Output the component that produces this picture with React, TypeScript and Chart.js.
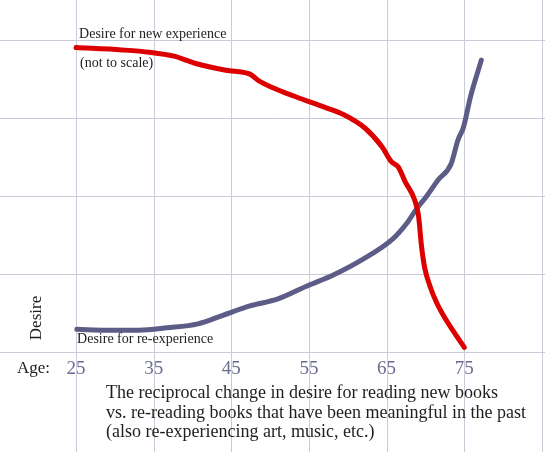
import { useEffect, useRef } from 'react';
import { Chart, registerables } from 'chart.js';

Chart.register(...registerables);

// ages (x) and desire (y)
const newAges = [25, 30.9, 34.5, 37.6, 40.3, 44.3, 47.4, 48.6, 53.3, 56.9, 59.5, 62.2, 64.4, 65.6, 66.5, 67.4, 68.6, 69.1, 69.5, 69.9, 70.6, 71.4, 72.3, 73.7, 75.0];
const newDesire = [3.9, 3.87, 3.84, 3.79, 3.7, 3.61, 3.56, 3.47, 3.27, 3.14, 3.04, 2.87, 2.63, 2.44, 2.37, 2.18, 1.95, 1.75, 1.35, 1.08, 0.84, 0.64, 0.47, 0.25, 0.06];

const reAges = [25.1, 29, 33.1, 36.7, 40.7, 43.9, 47.4, 51.0, 54.6, 58.2, 61.8, 65.8, 67.6, 68.9, 70.1, 71.6, 73.3, 74.2, 74.9, 75.8, 77.2];
const reDesire = [0.29, 0.28, 0.28, 0.31, 0.36, 0.47, 0.59, 0.68, 0.84, 0.99, 1.18, 1.45, 1.65, 1.84, 1.99, 2.2, 2.41, 2.72, 2.88, 3.27, 3.74];

const gridAges = [25, 35, 45, 55, 65, 75, 85];
const ageLabels = ['25', '35', '45', '55', '65', '75'];
const gridDesire = [0, 1, 2, 3, 4];

const captionLines = [
  'The reciprocal change in desire for reading new books',
  'vs. re-reading books that have been meaningful in the past',
  '(also re-experiencing art, music, etc.)',
];

const SERIF = "'Liberation Serif', 'Times New Roman', serif";
const GRID = '#cacad8';

// full-bleed grid, like the original sheet
const gridPlugin = {
  id: 'sheetGrid',
  beforeDatasetsDraw(chart: any) {
    const { ctx, width, height } = chart;
    const x = chart.scales.x;
    const y = chart.scales.y;
    ctx.save();
    ctx.strokeStyle = GRID;
    ctx.lineWidth = 1;
    x.ticks.forEach((t: any) => {
      const px = Math.round(x.getPixelForValue(t.value)) + 0.5;
      ctx.beginPath();
      ctx.moveTo(px, 0);
      ctx.lineTo(px, height);
      ctx.stroke();
    });
    y.ticks.forEach((t: any) => {
      const py = Math.round(y.getPixelForValue(t.value)) + 0.5;
      ctx.beginPath();
      ctx.moveTo(0, py);
      ctx.lineTo(width, py);
      ctx.stroke();
    });
    ctx.restore();
  },
};

const notesPlugin = {
  id: 'notes',
  afterDatasetsDraw(chart: any) {
    const { ctx, chartArea } = chart;
    const x = chart.scales.x;
    const left = x.getPixelForValue(25);
    const bottom = chartArea.bottom;
    ctx.save();
    ctx.fillStyle = '#1e1e1e';
    ctx.textBaseline = 'alphabetic';
    ctx.textAlign = 'left';

    ctx.font = `14px ${SERIF}`;
    ctx.fillText('Desire for new experience', left + 3, 38);
    ctx.fillText('(not to scale)', left + 4, 67);
    ctx.fillText('Desire for re-experience', left + 1, bottom - 9);

    ctx.font = `17px ${SERIF}`;
    ctx.fillText('Age:', 17, bottom + 21);

    ctx.save();
    ctx.translate(41, bottom - 34);
    ctx.rotate(-Math.PI / 2);
    ctx.textAlign = 'center';
    ctx.fillText('Desire', 0, 0);
    ctx.restore();

    ctx.font = `18px ${SERIF}`;
    captionLines.forEach((line, i) => {
      ctx.fillText(line, left + 30, bottom + 46 + i * 19.5);
    });
    ctx.restore();
  },
};

const App = () => {
  const canvasRef = useRef<HTMLCanvasElement>(null);

  useEffect(() => {
    if (!canvasRef.current) return;
    const chart = new Chart(canvasRef.current, {
      type: 'line',
      data: {
        datasets: [
          {
            label: 'Desire for new experience',
            data: newAges.map((a, i) => ({ x: a, y: newDesire[i] })),
            borderColor: '#dc0000',
            borderWidth: 5,
            borderCapStyle: 'round',
            borderJoinStyle: 'round',
            cubicInterpolationMode: 'monotone',
            pointRadius: 0,
            clip: false,
          },
          {
            label: 'Desire for re-experience',
            data: reAges.map((a, i) => ({ x: a, y: reDesire[i] })),
            borderColor: '#5c5c86',
            borderWidth: 5,
            borderCapStyle: 'round',
            borderJoinStyle: 'round',
            cubicInterpolationMode: 'monotone',
            pointRadius: 0,
            clip: false,
          },
        ],
      },
      options: {
        responsive: false,
        animation: false,
        layout: { padding: 0 },
        plugins: {
          legend: { display: false },
          tooltip: { enabled: false },
        },
        scales: {
          x: {
            type: 'linear',
            position: 'bottom',
            min: 15.2,
            max: 85.4,
            afterBuildTicks: (s: any) => {
              s.ticks = gridAges.map((v) => ({ value: v }));
            },
            afterFit: (s: any) => {
              s.height = 100;
              s.paddingLeft = 0;
              s.paddingRight = 0;
            },
            grid: { display: false },
            border: { display: false },
            ticks: {
              autoSkip: false,
              maxRotation: 0,
              padding: -2,
              color: '#6c6c92',
              font: { family: SERIF, size: 19 },
              callback: (v: any) => (ageLabels.includes(String(v)) ? String(v) : ''),
            },
          },
          y: {
            type: 'linear',
            display: false,
            min: 0,
            max: 4.51,
            afterBuildTicks: (s: any) => {
              s.ticks = gridDesire.map((v) => ({ value: v }));
            },
          },
        },
      },
      plugins: [gridPlugin, notesPlugin],
    });
    return () => chart.destroy();
  }, []);

  return (
    <div style={{ position: 'absolute', left: 0, top: 0, width: 545, height: 452, background: '#fff' }}>
      <canvas ref={canvasRef} width={545} height={452} />
    </div>
  );
};

export default App;
